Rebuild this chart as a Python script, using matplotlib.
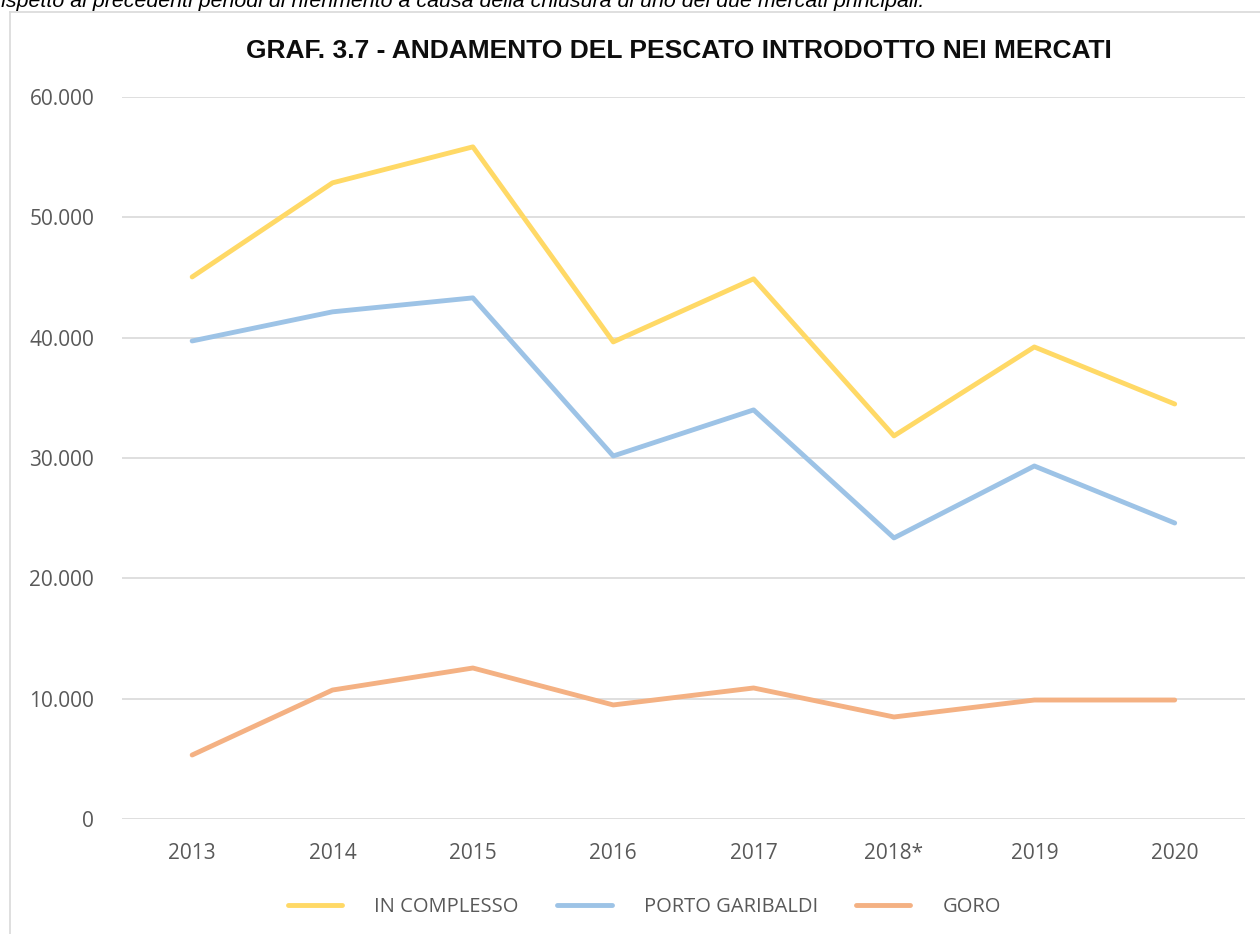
import matplotlib.pyplot as plt
from matplotlib.lines import Line2D
from matplotlib.ticker import FuncFormatter

# dati (quintali)
anni = ["2013", "2014", "2015", "2016", "2017", "2018*", "2019", "2020"]
in_complesso = [45050, 52870, 55860, 39650, 44890, 31840, 39230, 34490]
porto_garibaldi = [39730, 42150, 43310, 30170, 34000, 23360, 29340, 24600]
goro = [5320, 10720, 12550, 9480, 10890, 8480, 9890, 9890]

fig = plt.figure(figsize=(12.6, 9.34), dpi=100)
ax = fig.add_axes([0.0968, 0.1231, 0.8912, 0.773])

x = range(len(anni))
ax.plot(x, in_complesso, color="#FFD966", lw=3.5, label="IN COMPLESSO", solid_capstyle="round")
ax.plot(x, porto_garibaldi, color="#9DC3E6", lw=3.5, label="PORTO GARIBALDI", solid_capstyle="round")
ax.plot(x, goro, color="#F4B183", lw=3.5, label="GORO", solid_capstyle="round")

ax.set_xlim(-0.5, len(anni) - 0.5)
ax.set_ylim(0, 60000)
ax.set_yticks(range(0, 60001, 10000))
ax.yaxis.set_major_formatter(FuncFormatter(lambda v, p: f"{int(v):,}".replace(",", ".")))
ax.set_xticks(list(x))
ax.set_xticklabels(anni)
ax.grid(axis="y", color="#D9D9D9", lw=1.2)
ax.set_axisbelow(True)
for s in ax.spines.values():
    s.set_visible(False)
ax.tick_params(length=0, labelsize=15, labelcolor="#595959", pad=17)
ax.tick_params(axis="y", pad=20)
for lab in ax.get_xticklabels() + ax.get_yticklabels():
    lab.set_fontfamily("Open Sans")

fig.text(0.539, 0.945, "GRAF. 3.7 - ANDAMENTO DEL PESCATO INTRODOTTO NEI MERCATI",
         ha="center", va="center", fontsize=19, fontweight="bold",
         family="Liberation Sans", color="#0D0D0D")

# testo del documento tagliato in alto
fig.text(-0.005, 0.9925, "rispetto ai precedenti periodi di riferimento a causa della chiusura di uno dei due mercati principali.",
         ha="left", va="baseline", fontsize=15.4, style="italic", family="Liberation Sans")

# cornice del grafico
fig.add_artist(Line2D([0.008, 0.008], [0, 0.987], transform=fig.transFigure, color="#D9D9D9", lw=1.2))
fig.add_artist(Line2D([0.008, 1.0], [0.987, 0.987], transform=fig.transFigure, color="#D9D9D9", lw=1.2))

leg = fig.legend(loc="center", bbox_to_anchor=(0.5115, 0.029), ncol=3, frameon=False,
                 handlelength=2.7, handletextpad=1.6, columnspacing=1.9,
                 prop={"family": "Open Sans", "size": 14.5})
for t in leg.get_texts():
    t.set_color("#595959")

fig.savefig("out.png", dpi=100)
